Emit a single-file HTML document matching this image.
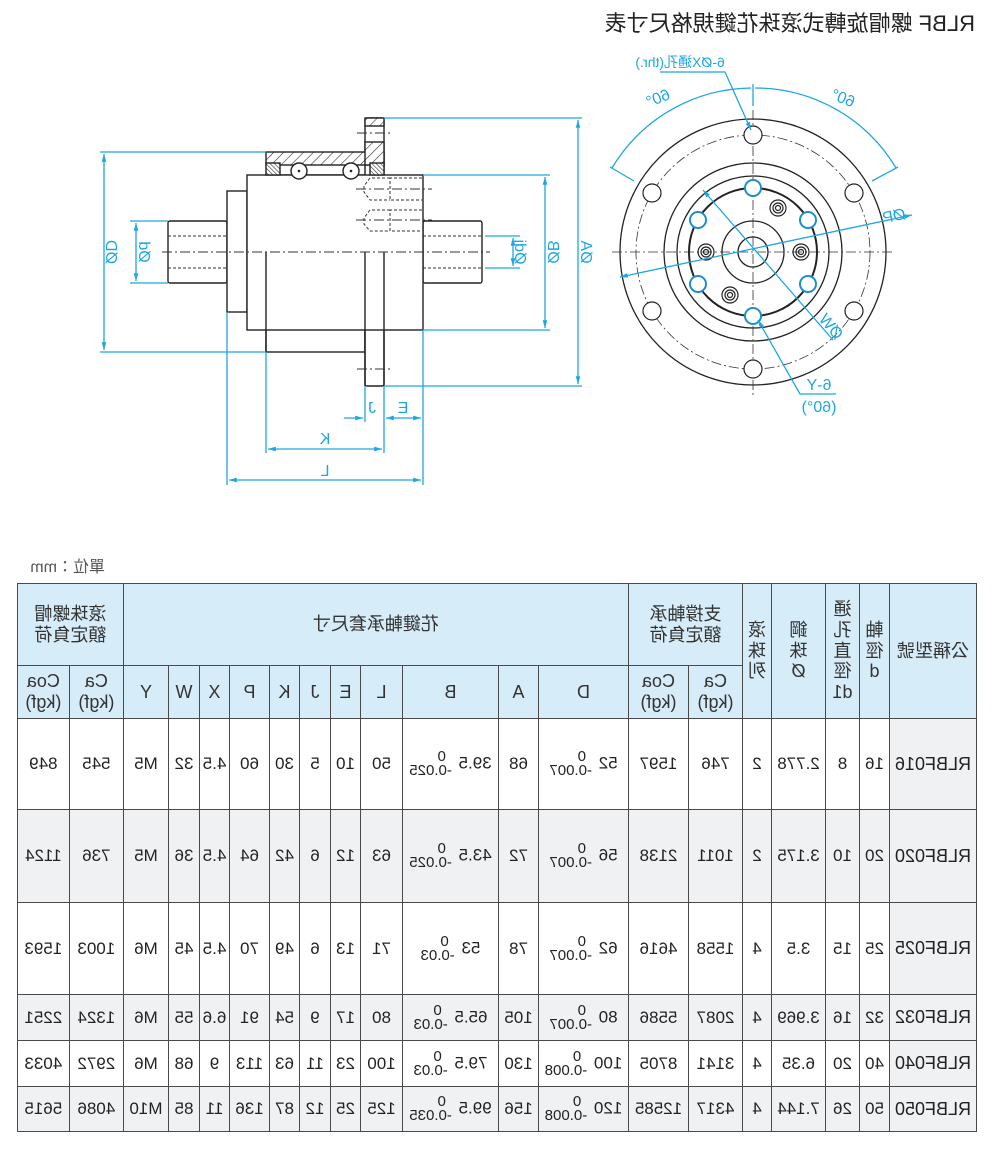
<!DOCTYPE html>
<html><head><meta charset="utf-8">
<style>
html,body{margin:0;padding:0;background:#fff;}
#wrap{position:relative;width:999px;height:1149px;overflow:hidden;transform:scaleX(-1);font-family:"Liberation Sans","Noto Sans CJK TC",sans-serif;color:#222;}
svg{position:absolute;left:0;top:0;}
table{position:absolute;left:22px;top:583px;width:959px;border-collapse:collapse;table-layout:fixed;font-size:17px;color:#222;}
td{border:1.5px solid #4a4a4a;text-align:center;vertical-align:middle;padding:0;line-height:1.15;}
.h td{background:#d6ecf8;color:#333;font-size:18px;}
.g td{background:#eff1f3;}
td.m{background:#eff1f3;font-size:18px;}
.tol{display:inline-block;vertical-align:middle;font-size:15px;line-height:14px;text-align:left;margin-left:2px;}
.tol span{display:block;}
.tol span:first-child{padding-left:6px;}
</style></head><body>
<div id="wrap">
<svg width="999" height="1149" viewBox="0 0 999 1149" xmlns="http://www.w3.org/2000/svg">
<defs>
<pattern id="hat" patternUnits="userSpaceOnUse" width="7" height="7" patternTransform="rotate(45)">
<rect width="7" height="7" fill="#fff"/><line x1="0" y1="0" x2="0" y2="7" stroke="#333" stroke-width="1.2"/></pattern>
<pattern id="hat2" patternUnits="userSpaceOnUse" width="3" height="3" patternTransform="rotate(-45)">
<rect width="3" height="3" fill="#fff"/><line x1="0" y1="0" x2="0" y2="3" stroke="#333" stroke-width="1.2"/></pattern>
<marker id="ar" viewBox="0 0 10 10" refX="10" refY="5" markerWidth="8" markerHeight="6" orient="auto-start-reverse"><path d="M0,2 L10,5 L0,8z" fill="#1ea7e1"/></marker>
</defs>
<g transform="translate(999,0) scale(-1,1)">
<g stroke="#222" stroke-width="1.4" fill="#fff">
<rect x="168" y="221" width="59" height="62" rx="2"/>
<rect x="423" y="221" width="59" height="62" rx="2"/>
<rect x="227" y="191" width="20" height="121"/>
<rect x="266" y="175" width="99" height="177"/>
<rect x="365" y="118" width="19" height="268" rx="2"/>
<rect x="247" y="175" width="176" height="155"/>
<rect x="266" y="152" width="118" height="13" fill="url(#hat)"/>
<rect x="365" y="118" width="19" height="8" fill="url(#hat)"/>
<rect x="365" y="142" width="19" height="23" fill="url(#hat)"/>
<rect x="266" y="163" width="14" height="12" fill="url(#hat2)"/>
<rect x="370" y="163" width="14" height="12" fill="url(#hat2)"/>
<circle cx="299" cy="171" r="8"/><circle cx="351" cy="171" r="8"/>
</g>
<g stroke="#fff" stroke-width="3"><line x1="266" y1="253" x2="266" y2="329"/></g>
<g stroke="#222" stroke-width="1.4" fill="none">
<line x1="266" y1="252" x2="266" y2="352"/><line x1="365" y1="252" x2="365" y2="386"/><line x1="384" y1="252" x2="384" y2="386"/>
</g>
<circle cx="299" cy="171" r="1.3" fill="#222"/><circle cx="351" cy="171" r="1.3" fill="#222"/>
<g stroke="#333" stroke-width="1" fill="none" stroke-dasharray="3,2">
<line x1="168" y1="236" x2="227" y2="236"/><line x1="168" y1="268" x2="227" y2="268"/>
<line x1="423" y1="236" x2="482" y2="236"/><line x1="423" y1="268" x2="482" y2="268"/>
<path d="M422,178 H390 V200 H422 M390,178 H370 L364,186 V192 L370,200 H390"/>
<path d="M422,210 H390 V231 H422 M390,210 H370 L364,218 V224 L370,231 H390"/>
</g>
<g stroke="#333" stroke-width="0.9" stroke-dasharray="10,3,2,3">
<line x1="162" y1="252" x2="490" y2="252"/>
<line x1="356" y1="189" x2="432" y2="189"/><line x1="356" y1="220" x2="432" y2="220"/>
<line x1="357" y1="133" x2="392" y2="133"/><line x1="357" y1="369" x2="392" y2="369"/>
</g>
<g stroke="#1ea7e1" stroke-width="1.3" fill="none">
<line x1="100" y1="152" x2="266" y2="152"/><line x1="100" y1="352" x2="266" y2="352"/>
<line x1="104" y1="154" x2="104" y2="350" marker-start="url(#ar)" marker-end="url(#ar)"/>
<line x1="130" y1="221" x2="168" y2="221"/><line x1="130" y1="283" x2="168" y2="283"/>
<line x1="136" y1="223" x2="136" y2="281" marker-start="url(#ar)" marker-end="url(#ar)"/>
<line x1="485" y1="236" x2="520" y2="236"/><line x1="485" y1="268" x2="520" y2="268"/>
<line x1="513" y1="238" x2="513" y2="266" marker-start="url(#ar)" marker-end="url(#ar)"/>
<line x1="423" y1="175" x2="550" y2="175"/><line x1="423" y1="330" x2="550" y2="330"/>
<line x1="545" y1="177" x2="545" y2="328" marker-start="url(#ar)" marker-end="url(#ar)"/>
<line x1="384" y1="118" x2="582" y2="118"/><line x1="384" y1="386" x2="582" y2="386"/>
<line x1="578" y1="120" x2="578" y2="384" marker-start="url(#ar)" marker-end="url(#ar)"/>
<line x1="227" y1="312" x2="227" y2="485"/><line x1="423" y1="330" x2="423" y2="485"/>
<line x1="266" y1="352" x2="266" y2="453"/><line x1="384" y1="386" x2="384" y2="453"/>
<line x1="365" y1="386" x2="365" y2="422"/>
<line x1="386" y1="418" x2="421" y2="418" marker-start="url(#ar)" marker-end="url(#ar)"/>
<line x1="344" y1="418" x2="363" y2="418" marker-end="url(#ar)"/>
<line x1="268" y1="449" x2="382" y2="449" marker-start="url(#ar)" marker-end="url(#ar)"/>
<line x1="229" y1="480" x2="421" y2="480" marker-start="url(#ar)" marker-end="url(#ar)"/>
</g>
<g stroke="#222" stroke-width="1.3" fill="none">
<circle cx="753" cy="252" r="133"/>
<circle cx="753" cy="252" r="89"/>
<circle cx="753" cy="252" r="76"/>
<circle cx="753" cy="252" r="64" stroke-width="2"/>
<circle cx="753" cy="252" r="31"/>
<circle cx="753" cy="252" r="15"/>
</g>
<g stroke="#333" stroke-width="0.8" fill="none" stroke-dasharray="10,3,2,3">
<circle cx="753" cy="252" r="117"/>
<line x1="612" y1="252" x2="895" y2="252"/><line x1="753" y1="110" x2="753" y2="395"/>
</g>
<g stroke="#222" stroke-width="1.2" fill="#fff">
<circle cx="753" cy="135" r="9"/><circle cx="753" cy="369" r="9"/>
<circle cx="652" cy="193" r="9"/><circle cx="854" cy="193" r="9"/>
<circle cx="652" cy="311" r="9"/><circle cx="854" cy="311" r="9"/>
</g>
<g stroke="#1e8fc8" stroke-width="2" fill="#fff">
<circle cx="753" cy="188" r="8"/><circle cx="753" cy="316" r="8"/>
<circle cx="698" cy="220" r="8"/><circle cx="808" cy="220" r="8"/>
<circle cx="698" cy="284" r="8"/><circle cx="808" cy="284" r="8"/>
</g>
<g stroke="#222" stroke-width="1.2" fill="none">
<circle cx="778" cy="208" r="8"/><circle cx="778" cy="208" r="5"/><circle cx="778" cy="208" r="2.5"/>
<circle cx="801" cy="252" r="8"/><circle cx="801" cy="252" r="5"/><circle cx="801" cy="252" r="2.5"/>
<circle cx="706" cy="252" r="8"/><circle cx="706" cy="252" r="5"/><circle cx="706" cy="252" r="2.5"/>
<circle cx="730" cy="295" r="8"/><circle cx="730" cy="295" r="5"/><circle cx="730" cy="295" r="2.5"/>
</g>
<g stroke="#1ea7e1" stroke-width="1.3" fill="none">
<path d="M612,168 A164,164 0 0 1 751,88"/><path d="M755,88 A164,164 0 0 1 896,168"/>
<line x1="610" y1="167" x2="634" y2="181"/><line x1="898" y1="167" x2="872" y2="181"/>
<line x1="753" y1="84" x2="753" y2="106"/>
<line x1="620" y1="277" x2="912" y2="215" marker-start="url(#ar)" marker-end="url(#ar)"/>
<line x1="703" y1="190" x2="833" y2="340" marker-start="url(#ar)"/>
<polyline points="660,72 725,72 751,130" marker-end="url(#ar)"/>
<polyline points="836,394 800,394 758,320" marker-end="url(#ar)"/>
</g>
</g>
<text x="24" y="31" font-size="22" font-family="Liberation Sans,Noto Sans CJK TC,sans-serif" fill="#222">RLBF 螺帽旋轉式滾珠花鍵規格尺寸表</text>
<g fill="#1ea7e1" font-size="16" font-family="Liberation Sans,Noto Sans CJK TC,sans-serif">
<text transform="translate(893,252) rotate(-90)" text-anchor="middle">ØD</text>
<text transform="translate(860,252) rotate(-90)" text-anchor="middle">Ød</text>
<text transform="translate(484,252) rotate(-90)" text-anchor="middle">Ødj</text>
<text transform="translate(451,252) rotate(-90)" text-anchor="middle">ØB</text>
<text transform="translate(418,252) rotate(-90)" text-anchor="middle">ØA</text>
<text x="596" y="413" text-anchor="middle">E</text>
<text x="627" y="413" text-anchor="middle">J</text>
<text x="674" y="444" text-anchor="middle">K</text>
<text x="674" y="476" text-anchor="middle">L</text>
<text x="319" y="67" text-anchor="middle" font-size="14">6-ØX通孔(thr.)</text>
<text transform="translate(339,103) rotate(22)" text-anchor="middle">60°</text>
<text transform="translate(158,103) rotate(-22)" text-anchor="middle">60°</text>
<text transform="translate(104,221) rotate(12)" text-anchor="middle">ØP</text>
<text transform="translate(172,330) rotate(-50)" text-anchor="middle">ØW</text>
<text x="180" y="390" text-anchor="middle">6-Y</text>
<text x="180" y="412" text-anchor="middle">(60°)</text>
</g>
<text x="894" y="572" font-size="16" fill="#555" font-family="Liberation Sans,Noto Sans CJK TC,sans-serif">單位：mm</text>
</svg>
<table>
<colgroup>
<col style="width:87px"><col style="width:30px"><col style="width:34px"><col style="width:54px"><col style="width:29px"><col style="width:54px"><col style="width:60px"><col style="width:90px"><col style="width:40px"><col style="width:96px"><col style="width:42px"><col style="width:30px"><col style="width:31px"><col style="width:30px"><col style="width:40px"><col style="width:30px"><col style="width:31px"><col style="width:45px"><col style="width:54px"><col style="width:52px">
</colgroup>
<tr class="h" style="height:82px">
<td rowspan="2">公稱型號</td><td rowspan="2">軸<br>徑<br>d</td><td rowspan="2">通<br>孔<br>直<br>徑<br>d1</td><td rowspan="2">鋼<br>珠<br>Ø</td><td rowspan="2">滾<br>珠<br>列</td>
<td colspan="2">支撐軸承<br>額定負荷</td><td colspan="11">花鍵軸承套尺寸</td><td colspan="2">滾珠螺帽<br>額定負荷</td></tr>
<tr class="h" style="height:53px">
<td>Ca<br>(kgf)</td><td>Coa<br>(kgf)</td><td>D</td><td>A</td><td>B</td><td>L</td><td>E</td><td>J</td><td>K</td><td>P</td><td>X</td><td>W</td><td>Y</td><td>Ca<br>(kgf)</td><td>Coa<br>(kgf)</td></tr>
<tr style="height:91px"><td class="m">RLBF016</td><td>16</td><td>8</td><td>2.778</td><td>2</td><td>746</td><td>1597</td><td>52 <span class="tol"><span>0</span><span>-0.007</span></span></td><td>68</td><td>39.5 <span class="tol"><span>0</span><span>-0.025</span></span></td><td>50</td><td>10</td><td>5</td><td>30</td><td>60</td><td>4.5</td><td>32</td><td>M5</td><td>545</td><td>849</td></tr>
<tr class="g" style="height:93px"><td class="m">RLBF020</td><td>20</td><td>10</td><td>3.175</td><td>2</td><td>1011</td><td>2138</td><td>56 <span class="tol"><span>0</span><span>-0.007</span></span></td><td>72</td><td>43.5 <span class="tol"><span>0</span><span>-0.025</span></span></td><td>63</td><td>12</td><td>6</td><td>42</td><td>64</td><td>4.5</td><td>36</td><td>M5</td><td>736</td><td>1124</td></tr>
<tr style="height:92px"><td class="m">RLBF025</td><td>25</td><td>15</td><td>3.5</td><td>4</td><td>1558</td><td>4616</td><td>62 <span class="tol"><span>0</span><span>-0.007</span></span></td><td>78</td><td>53 <span class="tol"><span>0</span><span>-0.03</span></span></td><td>71</td><td>13</td><td>6</td><td>49</td><td>70</td><td>4.5</td><td>45</td><td>M6</td><td>1003</td><td>1593</td></tr>
<tr class="g" style="height:46px"><td class="m">RLBF032</td><td>32</td><td>16</td><td>3.969</td><td>4</td><td>2087</td><td>5586</td><td>80 <span class="tol"><span>0</span><span>-0.007</span></span></td><td>105</td><td>65.5 <span class="tol"><span>0</span><span>-0.03</span></span></td><td>80</td><td>17</td><td>9</td><td>54</td><td>91</td><td>6.6</td><td>55</td><td>M6</td><td>1324</td><td>2251</td></tr>
<tr style="height:46px"><td class="m">RLBF040</td><td>40</td><td>20</td><td>6.35</td><td>4</td><td>3141</td><td>8705</td><td>100 <span class="tol"><span>0</span><span>-0.008</span></span></td><td>130</td><td>79.5 <span class="tol"><span>0</span><span>-0.03</span></span></td><td>100</td><td>23</td><td>11</td><td>63</td><td>113</td><td>9</td><td>68</td><td>M6</td><td>2972</td><td>4033</td></tr>
<tr class="g" style="height:45px"><td class="m">RLBF050</td><td>50</td><td>26</td><td>7.144</td><td>4</td><td>4317</td><td>12585</td><td>120 <span class="tol"><span>0</span><span>-0.008</span></span></td><td>156</td><td>99.5 <span class="tol"><span>0</span><span>-0.035</span></span></td><td>125</td><td>25</td><td>12</td><td>87</td><td>136</td><td>11</td><td>85</td><td>M10</td><td>4086</td><td>5615</td></tr>
</table>
</div>
</body></html>
